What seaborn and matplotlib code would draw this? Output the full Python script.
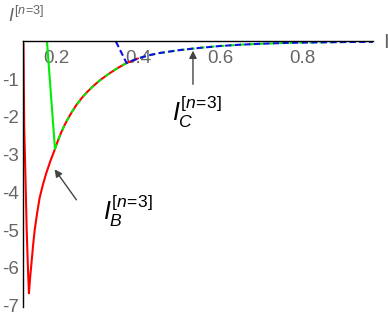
import matplotlib
matplotlib.use("Agg")
import matplotlib.pyplot as plt
import seaborn as sns
from matplotlib.ticker import MultipleLocator

# main branch shared by the three curves
x_main = [0.1975, 0.205, 0.212, 0.219, 0.226, 0.238, 0.25, 0.262, 0.275, 0.29,
          0.307, 0.327, 0.348, 0.372, 0.40, 0.425, 0.45, 0.475, 0.50, 0.55,
          0.60, 0.65, 0.70, 0.75, 0.80, 0.90, 0.973]
y_main = [-2.85, -2.62, -2.43, -2.26, -2.11, -1.88, -1.68, -1.51, -1.35, -1.19,
          -1.03, -0.87, -0.72, -0.57, -0.45, -0.37, -0.31, -0.27, -0.23, -0.17,
          -0.12, -0.085, -0.06, -0.042, -0.03, -0.015, -0.008]

# I_B (red): steep dive to the minimum, then up to the main branch
x_red = [0.1205, 0.1225, 0.1255, 0.1285, 0.1315, 0.134, 0.137, 0.140, 0.144,
         0.148, 0.154, 0.160, 0.168, 0.176, 0.186]
y_red = [-0.05, -2.3, -3.6, -5.0, -6.0, -6.68, -6.25, -5.9, -5.42,
         -5.0, -4.55, -4.15, -3.8, -3.5, -3.18]

# green: solid drop from the axis down to the red curve
x_green = [0.178, 0.1975]
y_green = [0.0, -2.85]

# blue: dashed drop from the axis down to the main branch
x_blue = [0.346, 0.372]
y_blue = [0.0, -0.57]

xticks = [0.2, 0.4, 0.6, 0.8]
yticks = [-1, -2, -3, -4, -5, -6, -7]

sns.set_style("white")
plt.rcParams["font.family"] = ["Liberation Sans", "DejaVu Sans"]
plt.rcParams["mathtext.fontset"] = "custom"
plt.rcParams["mathtext.rm"] = "Liberation Sans"
plt.rcParams["mathtext.it"] = "Liberation Sans:italic"
plt.rcParams["axes.unicode_minus"] = False

fig = plt.figure(figsize=(3.88, 3.19), dpi=100)
ax = fig.add_axes([0.0598, 0.0367, 0.9015, 0.8356])

lw = 1.5
red_x = x_red + x_main[:15]
red_y = y_red + y_main[:15]
sns.lineplot(x=red_x, y=red_y, color="#ff0000", linewidth=lw,
             estimator=None, sort=False, ax=ax)
sns.lineplot(x=x_green, y=y_green, color="#00ee00", linewidth=lw,
             estimator=None, sort=False, ax=ax)
sns.lineplot(x=x_main, y=y_main, color="#00ee00", linewidth=lw,
             estimator=None, sort=False, ax=ax)
ax.lines[-1].set_linestyle((0, (2.4, 2.4)))
sns.lineplot(x=x_blue + x_main[13:], y=y_blue + y_main[13:], color="#1010e0",
             linewidth=lw, estimator=None, sort=False, ax=ax)
ax.lines[-1].set_linestyle((0, (3.0, 1.6)))

ax.set_xlim(0.12, 0.973)
ax.set_ylim(-7.05, 0.02)

for s in ["top", "right"]:
    ax.spines[s].set_visible(False)
ax.spines["bottom"].set_position(("data", 0))
ax.spines["left"].set_position(("data", 0.12))
for s in ["bottom", "left"]:
    ax.spines[s].set_color("black")
    ax.spines[s].set_linewidth(1.0)

ax.set_xticks(xticks)
ax.set_xticklabels([f"{v:.1f}" for v in xticks])
ax.set_yticks(yticks)
ax.set_yticklabels([str(v) for v in yticks])
ax.xaxis.set_minor_locator(MultipleLocator(0.05))
ax.yaxis.set_minor_locator(MultipleLocator(0.2))
ax.tick_params(which="both", direction="in", colors="black",
               labelcolor="#666666", labelsize=13.5, width=0.8)
ax.tick_params(which="major", length=5)
ax.tick_params(which="minor", length=2.5)
ax.tick_params(axis="x", pad=6)
ax.tick_params(axis="y", pad=3)
ax.set_xlabel("")
ax.set_ylabel("")

# arrows and labels
ax.annotate("", xy=(0.534, -0.17), xytext=(0.534, -1.21),
            arrowprops=dict(arrowstyle="-|>", color="#444444", lw=1.0,
                            mutation_scale=11))
ax.text(0.483, -1.87, r"$I_C^{[n\!=\!3]}$", fontsize=18, ha="left",
        va="center", color="black")
ax.annotate("", xy=(0.1927, -3.33), xytext=(0.2537, -4.26),
            arrowprops=dict(arrowstyle="-|>", color="#444444", lw=1.0,
                            mutation_scale=11))
ax.text(0.3146, -4.5, r"$I_B^{[n\!=\!3]}$", fontsize=18, ha="left",
        va="center", color="black")

fig.text(8 / 388, 1 - 22 / 319, r"$I^{[n\!=\!3]}$", fontsize=13,
         color="#666666", ha="left", va="baseline")
fig.text(383 / 388, 1 - 48 / 319, "I", fontsize=15, color="#666666",
         ha="left", va="baseline")

fig.savefig("out.png", dpi=100)
